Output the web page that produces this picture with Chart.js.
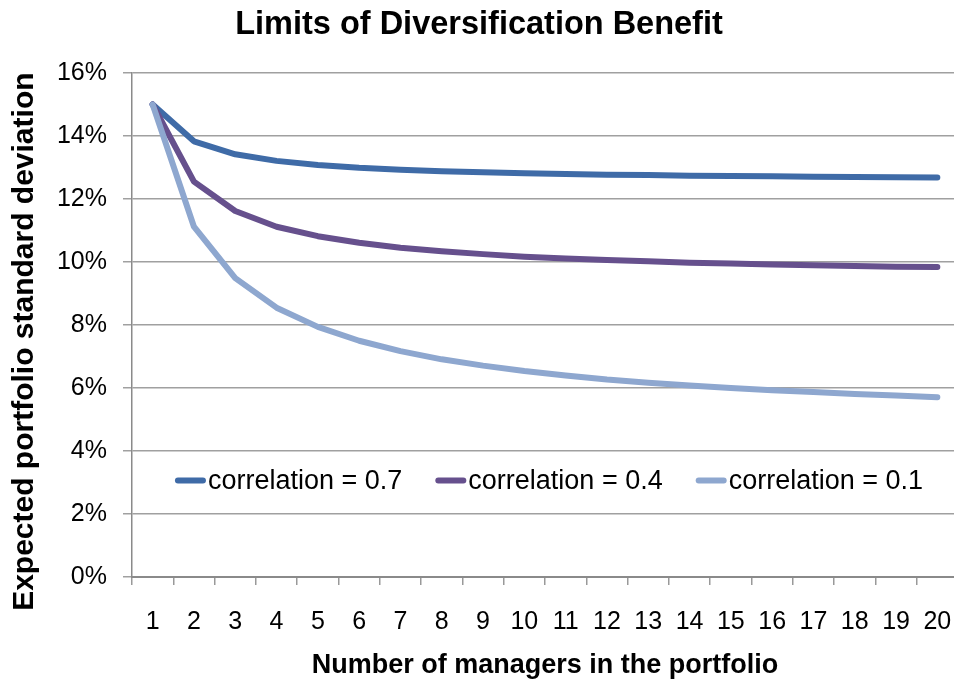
<!DOCTYPE html>
<html>
<head>
<meta charset="utf-8">
<script src="https://cdn.jsdelivr.net/npm/chart.js@4/dist/chart.umd.min.js"></script>
<style>
  html, body { margin: 0; padding: 0; background: #ffffff; overflow: hidden; }
  #wrap { width: 954px; height: 683px; overflow: hidden; }
  canvas { display: block; }
</style>
</head>
<body>
<div id="wrap"><canvas id="chart" width="958" height="683"></canvas></div>
<script>
// Number of managers held in the portfolio
const managers = ['1','2','3','4','5','6','7','8','9','10','11','12','13','14','15','16','17','18','19','20'];

// Expected portfolio standard deviation (%) for each pairwise correlation level
const corr07 = [15.00, 13.83, 13.42, 13.21, 13.08, 12.99, 12.93, 12.88, 12.85, 12.82,
                12.79, 12.77, 12.76, 12.74, 12.73, 12.72, 12.71, 12.70, 12.69, 12.68];
const corr04 = [15.00, 12.55, 11.62, 11.12, 10.82, 10.61, 10.45, 10.34, 10.25, 10.17,
                10.11, 10.06, 10.02, 9.98, 9.95, 9.92, 9.90, 9.87, 9.85, 9.84];
const corr01 = [15.00, 11.12, 9.49, 8.55, 7.94, 7.50, 7.17, 6.91, 6.71, 6.54,
                6.40, 6.27, 6.17, 6.08, 6.00, 5.93, 5.87, 5.81, 5.76, 5.71];

const seriesLabels = ['correlation = 0.7', 'correlation = 0.4', 'correlation = 0.1'];

// Y axis ticks (%)
const yTicks = [0, 2, 4, 6, 8, 10, 12, 14, 16];

const FONT = '"Liberation Sans", Arial, Helvetica, sans-serif';
const colors = ['#3F6BA7', '#66508D', '#8EA7CF'];

// Legend drawn as a single row inside the plot area, near the bottom
const insideLegend = {
  id: 'insideLegend',
  afterDatasetsDraw(chart) {
    const { ctx, chartArea } = chart;
    const font = '27px ' + FONT;
    const sample = 31, gap = 2, itemGap = 33;
    ctx.save();
    ctx.font = font;
    const items = chart.data.datasets.map(ds => ({
      label: ds.label, color: ds.borderColor, w: sample + gap + ctx.measureText(ds.label).width
    }));
    const total = items.reduce((s, it) => s + it.w, 0) + itemGap * (items.length - 1);
    let x = (chartArea.left + chartArea.right) / 2 - total / 2 + 4;
    const y = chart.scales.y.getPixelForValue(3.06);
    items.forEach(it => {
      ctx.strokeStyle = it.color;
      ctx.lineWidth = 6;
      ctx.lineCap = 'round';
      ctx.beginPath();
      ctx.moveTo(x + 3, y);
      ctx.lineTo(x + sample - 3, y);
      ctx.stroke();
      ctx.fillStyle = '#000';
      ctx.textBaseline = 'middle';
      ctx.textAlign = 'left';
      ctx.fillText(it.label, x + sample + gap, y + 1);
      x += it.w + itemGap;
    });
    ctx.restore();
  }
};

const lineStyle = {
  borderWidth: 6,
  pointRadius: 0,
  pointHoverRadius: 0,
  tension: 0,
  fill: false,
  borderJoinStyle: 'round',
  borderCapStyle: 'round'
};

new Chart(document.getElementById('chart'), {
  type: 'line',
  data: {
    labels: managers,
    datasets: [
      Object.assign({ label: seriesLabels[0], data: corr07, borderColor: colors[0], backgroundColor: colors[0], order: 3 }, lineStyle),
      Object.assign({ label: seriesLabels[1], data: corr04, borderColor: colors[1], backgroundColor: colors[1], order: 2 }, lineStyle),
      Object.assign({ label: seriesLabels[2], data: corr01, borderColor: colors[2], backgroundColor: colors[2], order: 1 }, lineStyle)
    ]
  },
  options: {
    responsive: false,
    animation: false,
    devicePixelRatio: 1,
    layout: { padding: { left: 0, right: 0, top: 0, bottom: 0 } },
    plugins: {
      legend: { display: false },
      tooltip: { enabled: false },
      title: {
        display: true,
        text: 'Limits of Diversification Benefit',
        color: '#000',
        font: { family: FONT, size: 32.5, weight: 'bold' },
        padding: { top: 6, bottom: 28 }
      }
    },
    scales: {
      x: {
        offset: true,
        grid: { display: true, drawOnChartArea: false, drawTicks: true, tickLength: 8, offset: true, color: '#999', lineWidth: 1.5 },
        border: { display: true, color: '#8a8a8a', width: 2 },
        ticks: { color: '#000', font: { family: FONT, size: 25 }, padding: 22, maxRotation: 0, autoSkip: false },
        title: {
          display: true,
          text: 'Number of managers in the portfolio',
          color: '#000',
          font: { family: FONT, size: 27, weight: 'bold' },
          padding: { top: 0, bottom: 1 }
        },
        afterFit(scale) {
          scale.height = 106;
          scale.paddingLeft = 0;
          scale.paddingRight = 0;
        }
      },
      y: {
        min: 0,
        max: 16,
        afterBuildTicks(scale) { scale.ticks = yTicks.map(v => ({ value: v })); },
        grid: { color: '#a0a0a0', lineWidth: 1.5, drawTicks: true, tickLength: 9 },
        border: { display: true, color: '#8a8a8a', width: 1.5 },
        ticks: { color: '#000', font: { family: FONT, size: 25 }, padding: 16, callback: v => v + '%' },
        title: {
          display: true,
          text: 'Expected portfolio standard deviation    ',
          color: '#000',
          font: { family: FONT, size: 30, weight: 'bold' },
          padding: { top: 7, bottom: 0 }
        },
        afterFit(scale) {
          scale.width = 132;
          scale.paddingTop = 0;
          scale.paddingBottom = 0;
        }
      }
    }
  },
  plugins: [insideLegend]
});
</script>
</body>
</html>
